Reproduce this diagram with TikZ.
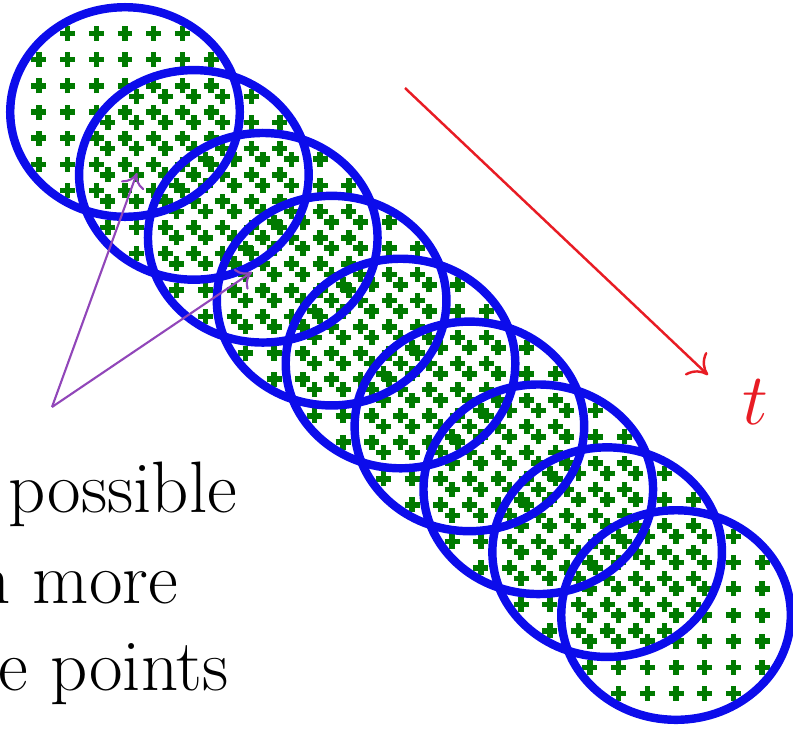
\documentclass[tikz,border=0pt]{standalone}
\usepackage{amsmath}
\usepackage{tikz}
\usetikzlibrary{arrows.meta,calc}
\definecolor{ringblue}{RGB}{12,12,235}
\definecolor{dotgreen}{RGB}{0,122,0}
\definecolor{timered}{RGB}{232,28,36}
\definecolor{hintviolet}{RGB}{145,70,185}

\begin{document}
\begin{tikzpicture}
    % Fix the frame of the figure
    \useasboundingbox (0,0) rectangle (7.93,7.29);
    % Define the grid step of the points and the shift between two discs
    \def\shift{2.4}
    \def\arm{0.075cm}

    \begin{scope}[shift={(1.25cm,6.17cm)}, x=0.287cm, y=0.262cm]
        % Name the centres of the nine discs
        \foreach \k in {0,...,8}
            \coordinate (c\k) at (\k*\shift, -\k*\shift);
        % Fill every disc with its own grid of points
        \foreach \k in {0,...,8}
            \foreach \j/\w in {-3/2,-2/3,-1/3,0/3,1/3,2/3,3/2}
                \foreach \i in {-\w,...,\w}
                    \draw[dotgreen, line width=0.055cm]
                        ($(c\k)+(\i,\j)$) ++(-\arm,0) -- ++(2*\arm,0)
                        ($(c\k)+(\i,\j)$) ++(0,-\arm) -- ++(0,2*\arm);
        % Draw the border of every disc
        \foreach \k in {0,...,8}
            \draw[ringblue, line width=2.4pt] (c\k) circle (4);
    \end{scope}

    % Direction of time
    \coordinate (tstart) at (4.05,6.41);
    \coordinate (tend) at (7.08,3.54);
    \draw[timered, line width=0.7pt, -{To[length=5pt,width=9pt]}] (tstart) -- (tend);
    \node[timered, font=\huge] (tlab) at (7.55,3.27) {$t$};

    % Pointers into the overlaps
    \coordinate (src) at (0.52,3.22);
    \coordinate (tipA) at (1.37,5.56);
    \coordinate (tipB) at (2.52,4.57);
    \draw[hintviolet, line width=0.6pt, -{To[length=4pt,width=7pt]}] (src) -- (tipA);
    \draw[hintviolet, line width=0.6pt, -{To[length=4pt,width=7pt]}] (src) -- (tipB);

    % The text on the left, cut by the frame
    \node[font=\huge, inner sep=0, anchor=base west] (l1) at (0.08,2.17) {possible};
    \node[font=\huge, inner sep=0, anchor=base west] (l2) at (-0.27,1.26) {n more};
    \node[font=\huge, inner sep=0, anchor=base west] (l3) at (-0.02,0.39) {e points};
\end{tikzpicture}
\end{document}
